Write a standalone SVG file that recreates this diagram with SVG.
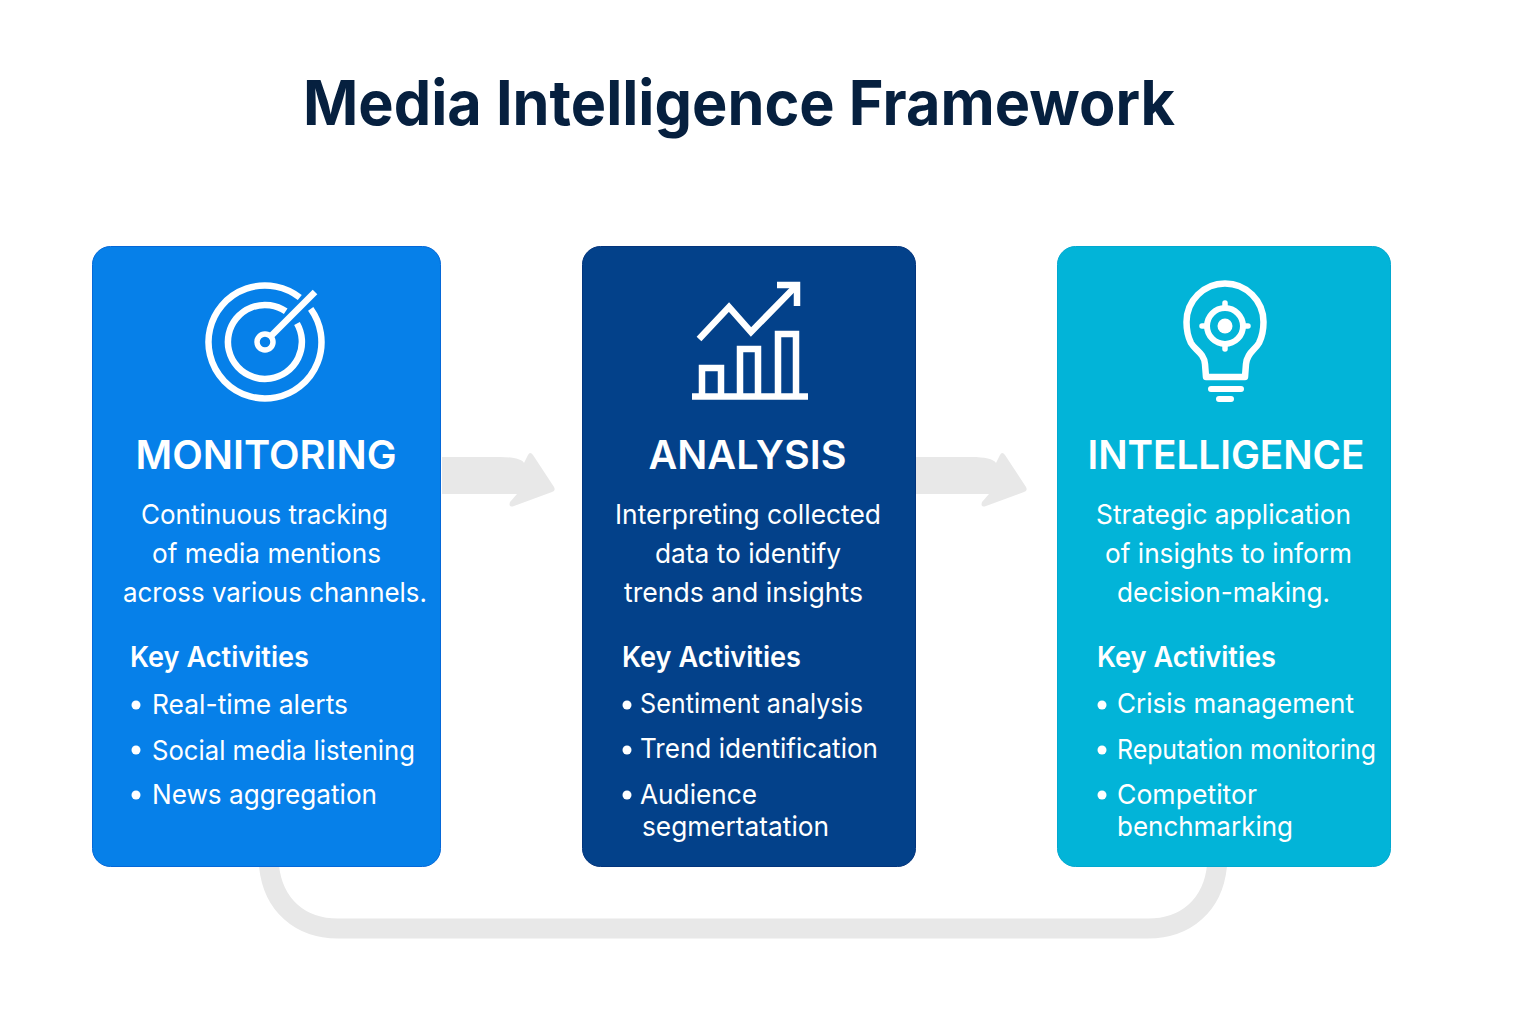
<svg xmlns="http://www.w3.org/2000/svg" width="1536" height="1024" viewBox="0 0 1536 1024">
<style>
text{font-family:"Inter","Noto Sans","Liberation Sans",sans-serif;fill:#fff}
.title{font-size:62px;font-weight:700;fill:#06203f}
.h{font-size:40px;font-weight:600}
.b{font-size:27.5px;font-weight:400}
.k{font-size:28px;font-weight:600}
.l{font-size:27.5px;font-weight:400}
.i{fill:none;stroke:#fff;stroke-width:6.5}
.r{stroke-linecap:round;stroke-linejoin:round}
.flow{fill:#e8e8e8}
.dot{fill:#fff}
</style>
<defs>
<path id="arrow" class="flow" d="M442 457H500C512 457 522 459 524 463L528 455Q530 451 533 455L554 487Q556 491 552 492L514 506Q508 508 510 502L517 494H442Z"/>
</defs>
<rect width="1536" height="1024" fill="#fff"/>
<text class="title" x="303" y="125" textLength="872" lengthAdjust="spacingAndGlyphs">Media Intelligence Framework</text>
<g id="connectors">
<path d="M269 866C273 905 300 928.5 338 928.5H1148C1186 928.5 1213 905 1217 866" fill="none" stroke="#e8e8e8" stroke-width="20"/>
<use href="#arrow"/>
<use href="#arrow" x="472"/>
</g>
<g id="monitoring">
<rect x="92.500" y="246.500" width="348" height="620" rx="18" fill="#0680e9" stroke="#0568d8"/>
<g class="i">
<path d="M299.800 297.500A56.500 56.500 0 1 0 310.700 308.800"/>
<path d="M285.700 311.300A37 37 0 1 0 297 323.500"/>
<circle cx="265" cy="342" r="8" stroke-width="5.500"/>
<path d="M271 336L315 292"/>
</g>
<text class="h" x="135.500" y="468.500" textLength="261" lengthAdjust="spacingAndGlyphs">MONITORING</text>
<text class="b" x="141" y="523.500" textLength="247" lengthAdjust="spacingAndGlyphs">Continuous tracking</text>
<text class="b" x="152" y="563" textLength="229" lengthAdjust="spacingAndGlyphs">of media mentions</text>
<text class="b" x="123" y="602" textLength="304" lengthAdjust="spacingAndGlyphs">across various channels.</text>
<text class="k" x="130" y="667" textLength="179" lengthAdjust="spacingAndGlyphs">Key Activities</text>
<circle class="dot" cx="136" cy="705" r="4.500"/><text class="l" x="152" y="714" textLength="196" lengthAdjust="spacingAndGlyphs">Real-time alerts</text>
<circle class="dot" cx="136" cy="750" r="4.500"/><text class="l" x="152" y="760" textLength="263" lengthAdjust="spacingAndGlyphs">Social media listening</text>
<circle class="dot" cx="136" cy="795" r="4.500"/><text class="l" x="152" y="804" textLength="225" lengthAdjust="spacingAndGlyphs">News aggregation</text>
</g>
<g id="analysis">
<rect x="582.500" y="246.500" width="333" height="620" rx="18" fill="#03418a" stroke="#03347c"/>
<g class="i">
<path d="M692 396.500H808"/>
<path d="M702 394V368H721V394M740 394V349H758V394M778 394V334H796V394"/>
<path d="M699 339L729 307L751 332L795 287"/>
<path d="M777 285H797V306"/>
</g>
<text class="h" x="648.500" y="468.500" textLength="198" lengthAdjust="spacingAndGlyphs">ANALYSIS</text>
<text class="b" x="615" y="523.500" textLength="266" lengthAdjust="spacingAndGlyphs">Interpreting collected</text>
<text class="b" x="655" y="563" textLength="186" lengthAdjust="spacingAndGlyphs">data to identify</text>
<text class="b" x="624" y="602" textLength="239" lengthAdjust="spacingAndGlyphs">trends and insights</text>
<text class="k" x="622" y="667" textLength="179" lengthAdjust="spacingAndGlyphs">Key Activities</text>
<circle class="dot" cx="627" cy="705" r="4.500"/><text class="l" x="640" y="713" textLength="223" lengthAdjust="spacingAndGlyphs">Sentiment analysis</text>
<circle class="dot" cx="627" cy="750" r="4.500"/><text class="l" x="640" y="758" textLength="238" lengthAdjust="spacingAndGlyphs">Trend identification</text>
<circle class="dot" cx="627" cy="795" r="4.500"/><text class="l" x="640" y="804" textLength="117" lengthAdjust="spacingAndGlyphs">Audience</text>
<text class="l" x="642" y="836" textLength="187" lengthAdjust="spacingAndGlyphs">segmertatation</text>
</g>
<g id="intelligence">
<rect x="1057.500" y="246.500" width="333" height="620" rx="18" fill="#02b4d8" stroke="#02a8d0"/>
<g class="i r">
<path d="M1206 377L1205 364C1204 353 1195 350 1191 343C1188 337 1186.500 330 1186.500 322A38.500 38.500 0 0 1 1263.500 322C1263.500 330 1262 337 1259 343C1255 350 1247 353 1246 364L1245 377H1206Z"/>
<circle cx="1225" cy="326" r="18" stroke-width="6"/>
<path d="M1225 303V308M1225 344V349M1202 326H1207M1243 326H1248" stroke-width="5.500"/>
<path d="M1211 389H1241M1219 399H1231" stroke-width="6"/>
</g>
<circle class="dot" cx="1225" cy="326" r="7.500"/>
<text class="h" x="1087.500" y="468.500" textLength="277" lengthAdjust="spacingAndGlyphs">INTELLIGENCE</text>
<text class="b" x="1096" y="523.500" textLength="255" lengthAdjust="spacingAndGlyphs">Strategic application</text>
<text class="b" x="1105" y="563" textLength="247" lengthAdjust="spacingAndGlyphs">of insights to inform</text>
<text class="b" x="1117" y="602" textLength="213" lengthAdjust="spacingAndGlyphs">decision-making.</text>
<text class="k" x="1097" y="667" textLength="179" lengthAdjust="spacingAndGlyphs">Key Activities</text>
<circle class="dot" cx="1102" cy="705" r="4.500"/><text class="l" x="1117" y="713" textLength="237" lengthAdjust="spacingAndGlyphs">Crisis management</text>
<circle class="dot" cx="1102" cy="750" r="4.500"/><text class="l" x="1117" y="759" textLength="259" lengthAdjust="spacingAndGlyphs">Reputation monitoring</text>
<circle class="dot" cx="1102" cy="795" r="4.500"/><text class="l" x="1117" y="804" textLength="140" lengthAdjust="spacingAndGlyphs">Competitor</text>
<text class="l" x="1117" y="836" textLength="176" lengthAdjust="spacingAndGlyphs">benchmarking</text>
</g>
</svg>
